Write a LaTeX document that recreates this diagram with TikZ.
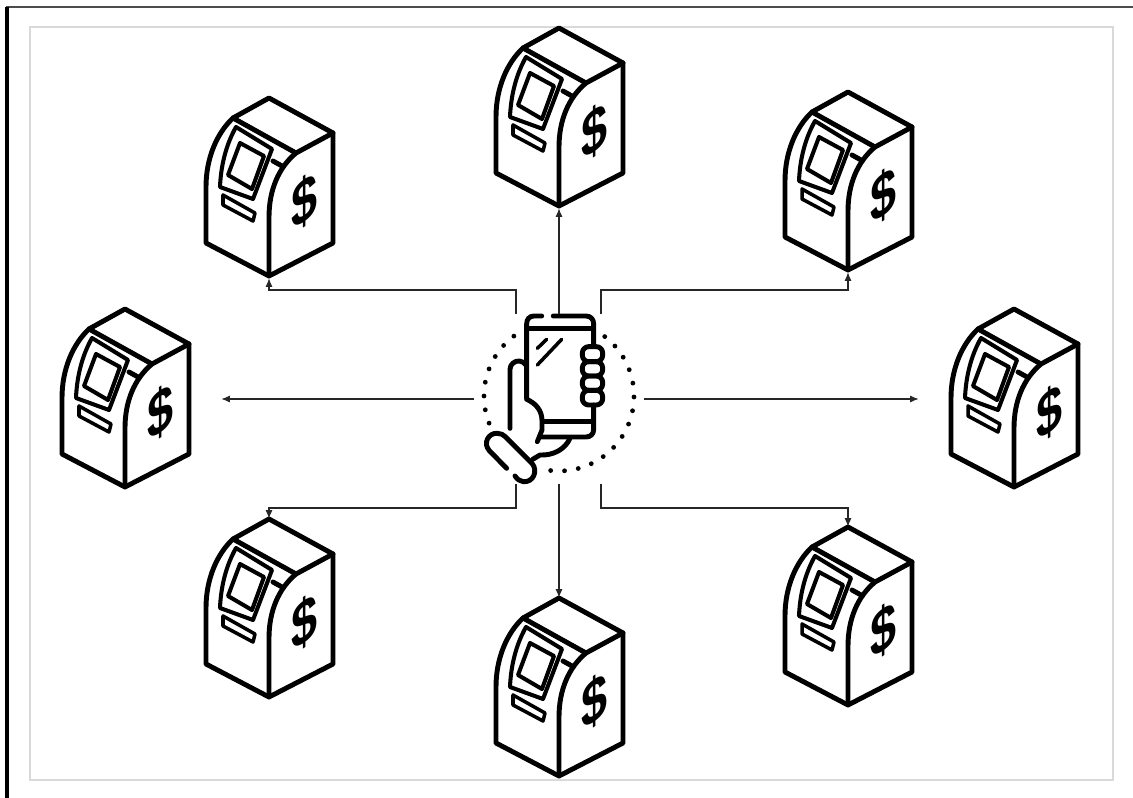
\documentclass[tikz,border=0pt]{standalone}
\usepackage{fontspec}
\setmainfont{Liberation Sans}
\usetikzlibrary{arrows.meta}
\tikzset{
    link/.style={-{Latex[length=1.7mm,width=1.4mm]}, line width=0.6pt, black!85},
    atmbox/.style={minimum width=2.56cm, minimum height=3.6cm, inner sep=0pt},
    thickline/.style={line width=2.8pt, line cap=round, line join=round},
    atmicon/.pic={
        % 机身
        \draw[thickline] (-36,20) -- (0,0) -- (64,35) -- (27,55) -- cycle;
        \draw[thickline] (64,35) -- (64,145) -- (0,178) -- (-63,145) -- (-63,89)
            .. controls (-63,60) and (-52,35) .. (-36,20);
        \draw[thickline] (27,55) .. controls (9,70) and (0,93) .. (0,119) -- (0,178);
        % 屏幕
        \draw[thickline, line width=2.3pt] (-49,89) .. controls (-48,65) and (-42,45) .. (-33,29) -- (3,51) -- (-16,101) -- cycle;
        \draw[thickline, line width=2.3pt] (-41,77) -- (-29,45) -- (-5,58) -- (-17,91) -- cycle;
        % 插卡口
        \draw[thickline, line width=2pt] (-46,97) -- (-14,115) -- (-16,123) -- (-46,107) -- cycle;
        \draw[thickline] (4,63) -- (13,68);
        \node[font=\bfseries\fontsize{36}{36}\selectfont, xscale=0.74, yslant=0.5, inner sep=0pt] at (36,104) {\$};
    }
}
\begin{document}
\begin{tikzpicture}[x=0.02cm, y=-0.02cm]
    \useasboundingbox (0,0) rectangle (1133,798);

    % 外框
    \draw[black!70, line width=0.7pt] (6,7) -- (1133,7);
    \draw[black, line width=2pt] (7,7) -- (7,798);
    \draw[black!15, line width=0.9pt] (30,27) rectangle (1113,780);

    % ATM
    \foreach \name/\x/\y in {atmTL/269/98, atmT/559/28, atmTR/848/92, atmL/125/309,
                             atmR/1014/309, atmBL/269/519, atmB/559/598, atmBR/848/527} {
        \node[atmbox] (\name) at (\x, \y+90) {};
        \pic at (\x, \y) {atmicon};
    }

    % 手机
    \node[circle, minimum size=3.4cm, inner sep=0pt] (phone) at (559,399) {};
    \coordinate (phoneNW) at (516,314);
    \coordinate (phoneNE) at (601,314);
    \coordinate (phoneSW) at (516,484);
    \coordinate (phoneSE) at (601,484);

    \foreach \k in {0,...,14} {
        \fill ({559+75*cos(-96.4+10.63*\k)}, {396-75*sin(-96.4+10.63*\k)}) circle (2.4);
    }
    \foreach \k in {0,...,7} {
        \fill ({559+75*cos(127+10.6*\k)}, {396-75*sin(127+10.6*\k)}) circle (2.4);
    }

    \begin{scope}[shift={(460,290)}, x=0.02cm/3, y=-0.02cm/3]
        \draw[thickline] (245,78) -- (222,78) .. controls (208,78) and (200,88) .. (200,102) -- (200,325);
        \draw[thickline] (280,78) -- (378,78) .. controls (392,78) and (401,88) .. (401,102) -- (401,165);
        \draw[thickline] (401,345) -- (401,418) .. controls (401,432) and (392,441) .. (378,441) -- (240,441);
        \draw[thickline] (202,115) -- (399,115);
        \draw[thickline] (250,395) -- (399,395);
        % 反光
        \draw[thickline, line width=2pt] (232,175) -- (260,148);
        \draw[thickline, line width=2pt] (232,225) -- (305,148);
        % 手指
        \foreach \ya/\yb in {170/215, 215/258, 258/301, 301/345} {
            \draw[thickline, rounded corners=3.6pt] (367,\ya) rectangle (428,\yb);
        }
        % 手掌
        \draw[thickline] (150,415) -- (150,238) .. controls (150,222) and (165,212) .. (178,213) .. controls (186,214) and (193,218) .. (198,225);
        \draw[thickline] (200,328) .. controls (228,340) and (246,362) .. (246,392) -- (246,420) -- (232,455);
        \draw[thickline] (330,445) .. controls (315,478) and (280,497) .. (240,495) -- (218,508);
        % 袖口
        \draw[thickline] (140,535) -- (88,482) .. controls (68,460) and (85,428) .. (112,430) .. controls (122,430) and (130,434) .. (136,440)
            -- (216,520) .. controls (235,542) and (220,578) .. (190,575) .. controls (180,574) and (172,568) .. (165,558);
    \end{scope}

    % 连线
    \draw[link] (phone.north) -- (atmT.south);
    \draw[link] (phone.south) -- (atmB.north);
    \draw[link, shorten >=0.64cm] (phone.west) -- (phone.west -| atmL.east);
    \draw[link, shorten >=0.62cm] (phone.east) -- (phone.east -| atmR.west);
    \draw[link] (phoneNW) -- ++(0,-24) -| (atmTL.south);
    \draw[link] (phoneNE) -- ++(0,-24) -| (atmTR.south);
    \draw[link] (phoneSW) -- ++(0,24) -| (atmBL.north);
    \draw[link] (phoneSE) -- ++(0,24) -| (atmBR.north);
\end{tikzpicture}
\end{document}
